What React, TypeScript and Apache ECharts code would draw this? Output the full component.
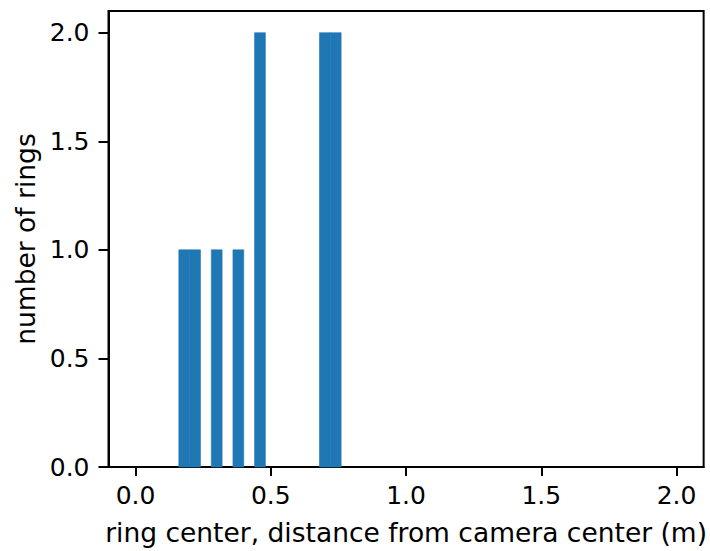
import React, { useEffect, useRef } from "react";
import * as echarts from "echarts";

const binStarts = [0.16, 0.2, 0.28, 0.36, 0.44, 0.68, 0.72];
const binWidth = 0.04;
const counts = [1, 1, 1, 1, 2, 2, 2];
const xTicks = [0.0, 0.5, 1.0, 1.5, 2.0];
const yTicks = [0.0, 0.5, 1.0, 1.5, 2.0];
const xName = "ring center, distance from camera center (m)";
const yName = "number of rings";

export default function App() {
  const ref = useRef<HTMLDivElement>(null);
  useEffect(() => {
    if (!ref.current) return;
    const chart = echarts.init(ref.current, null, { renderer: "svg" });
    const font = "DejaVu Sans";
    const data = binStarts.map((s, i) => [s, s + binWidth, counts[i]]);
    const axisLine = { show: true, onZero: false, lineStyle: { color: "#000", width: 2 } };
    chart.setOption({
      animation: false,
      grid: {
        left: 108.5,
        right: 4.5,
        top: 11,
        bottom: 81.5,
        show: true,
        borderColor: "#000",
        borderWidth: 2,
        backgroundColor: "transparent",
      },
      xAxis: {
        type: "value",
        min: -0.1,
        max: 2.1,
        name: xName,
        nameLocation: "middle",
        nameGap: 52,
        nameTextStyle: { fontFamily: font, fontSize: 26.5, color: "#000" },
        axisLine,
        splitLine: { show: false },
        axisTick: {
          show: true,
          length: 9,
          lineStyle: { color: "#000", width: 2 },
          customValues: xTicks,
        },
        axisLabel: {
          customValues: xTicks,
          margin: 16,
          fontFamily: font,
          fontSize: 25,
          color: "#000",
          formatter: (v: number) => v.toFixed(1),
        },
      },
      yAxis: {
        type: "value",
        min: 0,
        max: 2.1,
        name: yName,
        nameLocation: "middle",
        nameGap: 70,
        nameTextStyle: { fontFamily: font, fontSize: 26.5, color: "#000" },
        axisLine,
        splitLine: { show: false },
        axisTick: {
          show: true,
          length: 10,
          lineStyle: { color: "#000", width: 2 },
          customValues: yTicks,
        },
        axisLabel: {
          customValues: yTicks,
          margin: 19,
          fontFamily: font,
          fontSize: 25,
          color: "#000",
          formatter: (v: number) => v.toFixed(1),
        },
      },
      series: [
        {
          type: "custom",
          data,
          encode: { x: [0, 1], y: 2 },
          renderItem: (params: any, api: any) => {
            const p0 = api.coord([api.value(0), api.value(2)]);
            const p1 = api.coord([api.value(1), 0]);
            return {
              type: "rect",
              shape: { x: p0[0], y: p0[1], width: p1[0] - p0[0], height: p1[1] - p0[1] },
              style: { fill: "#1f77b4", stroke: "#1f77b4", lineWidth: 0.6 },
            };
          },
        },
      ],
    });
    return () => chart.dispose();
  }, []);
  return <div ref={ref} style={{ width: 710, height: 551, position: "absolute", left: 0, top: 0 }} />;
}
